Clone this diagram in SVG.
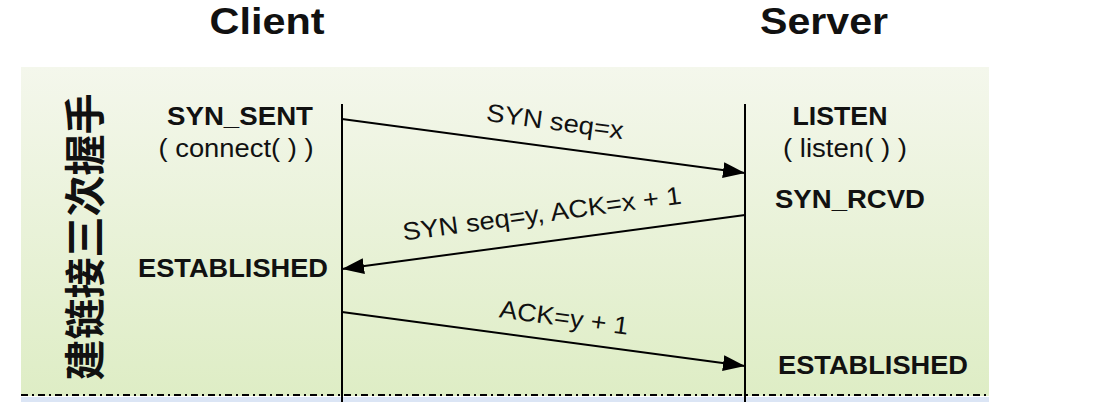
<svg xmlns="http://www.w3.org/2000/svg" width="1114" height="402" viewBox="0 0 1114 402">
  <defs>
    <linearGradient id="bg" x1="0" y1="0" x2="0" y2="1">
      <stop offset="0" stop-color="#f4f7ec"/>
      <stop offset="1" stop-color="#deedc5"/>
    </linearGradient>
    <marker id="arr" viewBox="0 0 22 16" refX="22" refY="8" markerWidth="22" markerHeight="16" markerUnits="userSpaceOnUse" orient="auto">
      <path d="M0,0 L22,8 L0,16 Z" fill="#000"/>
    </marker>
    <style>
      .title { font-family: "Liberation Sans", Arial, sans-serif; font-weight: bold; font-size: 37px; fill: #111; text-anchor: middle; }
      .state { font-family: "Liberation Sans", Arial, sans-serif; font-weight: bold; font-size: 25px; fill: #111; text-anchor: middle; }
      .call { font-family: "Liberation Sans", Arial, sans-serif; font-size: 25px; fill: #111; text-anchor: middle; }
      .msg { font-family: "Liberation Sans", Arial, sans-serif; font-size: 25px; fill: #111; text-anchor: middle; }
      .cjk { font-family: "Noto Sans CJK SC", sans-serif; font-weight: bold; font-size: 41px; fill: #111; text-anchor: middle; }
      .life { stroke: #000; stroke-width: 2; fill: none; }
      .conn { stroke: #000; stroke-width: 2; fill: none; marker-end: url(#arr); }
    </style>
  </defs>

  <rect x="0" y="0" width="1114" height="402" fill="#ffffff"/>

  <g id="phase">
    <rect x="21" y="67" width="968" height="329" fill="url(#bg)"/>
    <rect x="21" y="397" width="968" height="5" fill="#dbe5f5"/>
    <line x1="21" y1="395" x2="989" y2="395" stroke="#000" stroke-width="2" stroke-dasharray="7,4,2,4"/>
    <text class="cjk" transform="translate(100,237) rotate(-90)" x="0" y="0">建链接三次握手</text>
  </g>

  <g id="client">
    <text class="title" x="267" y="34" textLength="115" lengthAdjust="spacingAndGlyphs">Client</text>
    <line class="life" x1="342" y1="104" x2="342" y2="402"/>
    <text class="state" x="240" y="125" textLength="146" lengthAdjust="spacingAndGlyphs">SYN_SENT</text>
    <text class="call" x="236" y="157" textLength="155" lengthAdjust="spacingAndGlyphs">( connect( ) )</text>
    <text class="state" x="233" y="277" textLength="190" lengthAdjust="spacingAndGlyphs">ESTABLISHED</text>
  </g>

  <g id="server">
    <text class="title" x="824" y="34" textLength="128" lengthAdjust="spacingAndGlyphs">Server</text>
    <line class="life" x1="745" y1="104" x2="745" y2="402"/>
    <text class="state" x="840" y="125" textLength="95" lengthAdjust="spacingAndGlyphs">LISTEN</text>
    <text class="call" x="845" y="157" textLength="124" lengthAdjust="spacingAndGlyphs">( listen( ) )</text>
    <text class="state" x="850" y="208" textLength="150" lengthAdjust="spacingAndGlyphs">SYN_RCVD</text>
    <text class="state" x="873" y="374" textLength="190" lengthAdjust="spacingAndGlyphs">ESTABLISHED</text>
  </g>

  <g id="connectors">
    <line class="conn" x1="342" y1="119" x2="745" y2="173"/>
    <text class="msg" x="554" y="130" transform="rotate(7.6 554 130)" textLength="138" lengthAdjust="spacingAndGlyphs">SYN seq=x</text>
    <line class="conn" x1="745" y1="215" x2="342" y2="269"/>
    <text class="msg" x="543" y="222" transform="rotate(-7.6 543 222)" textLength="281" lengthAdjust="spacingAndGlyphs">SYN seq=y, ACK=x + 1</text>
    <line class="conn" x1="342" y1="312" x2="745" y2="366"/>
    <text class="msg" x="563" y="326" transform="rotate(7.7 563 326)" textLength="130" lengthAdjust="spacingAndGlyphs">ACK=y + 1</text>
  </g>
</svg>
